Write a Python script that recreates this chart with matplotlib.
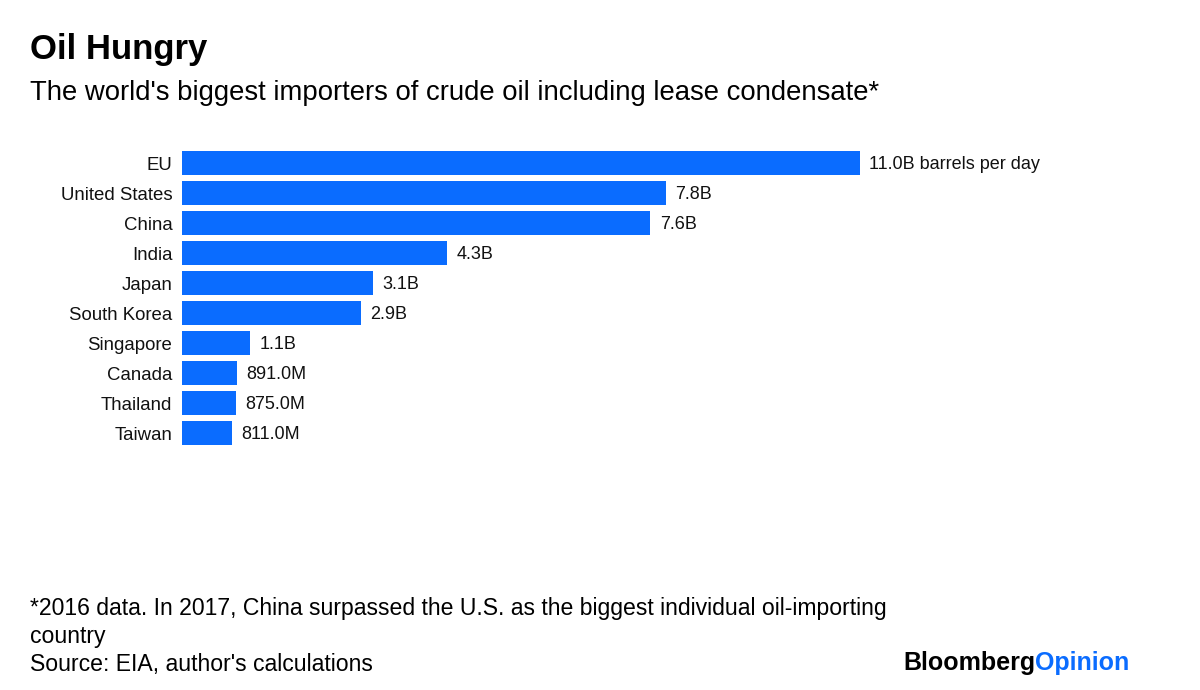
import matplotlib.pyplot as plt

plt.rcParams['font.family'] = ['Liberation Sans', 'DejaVu Sans']

countries = ['EU', 'United States', 'China', 'India', 'Japan', 'South Korea',
             'Singapore', 'Canada', 'Thailand', 'Taiwan']
imports_b = [11.0, 7.85, 7.6, 4.3, 3.1, 2.9, 1.1, 0.891, 0.875, 0.811]
value_labels = ['11.0B barrels per day', '7.8B', '7.6B', '4.3B', '3.1B', '2.9B',
                '1.1B', '891.0M', '875.0M', '811.0M']

bar_color = '#0a6cff'

fig = plt.figure(figsize=(12, 6.9), dpi=100)
ax = fig.add_axes([182 / 1200, (690 - 448) / 690, 900 / 1200, 300 / 690])

y = list(range(len(countries)))
ax.barh(y, imports_b, height=0.77, color=bar_color)
ax.set_xlim(0, 900 / 61.6)
ax.set_ylim(len(countries) - 0.5, -0.5)

for yi, v, lab in zip(y, imports_b, value_labels):
    ax.annotate(lab, (v, yi), xytext=(7, -1), textcoords='offset points',
                va='center', ha='left', fontsize=13, color='#111111')

ax.set_yticks(y)
ax.set_yticklabels(countries, fontsize=13.4, color='#111111')
ax.tick_params(axis='y', length=0, pad=7)
ax.set_xticks([])
for s in ax.spines.values():
    s.set_visible(False)

fig.text(30 / 1200, 1 - 50 / 690, 'Oil Hungry', fontsize=25, fontweight='bold',
         va='center', ha='left')
fig.text(30 / 1200, 1 - 93 / 690,
         "The world's biggest importers of crude oil including lease condensate*",
         fontsize=19.8, va='center', ha='left')

fig.text(30 / 1200, 1 - 608 / 690,
         '*2016 data. In 2017, China surpassed the U.S. as the biggest individual oil-importing',
         fontsize=16.6, va='center', ha='left')
fig.text(30 / 1200, 1 - 636 / 690, 'country', fontsize=16.6, va='center', ha='left')
fig.text(30 / 1200, 1 - 664 / 690, "Source: EIA, author's calculations",
         fontsize=16.6, va='center', ha='left')

t = fig.text(903 / 1200, 1 - 663 / 690, 'Bloomberg', fontsize=18, fontweight='bold',
             va='center', ha='left', color='black')
fig.canvas.draw()
bb = t.get_window_extent()
fig.text(bb.x1 / 1200, 1 - 663 / 690, 'Opinion', fontsize=18, fontweight='bold',
         va='center', ha='left', color=bar_color)

fig.savefig('out.png', dpi=100)
